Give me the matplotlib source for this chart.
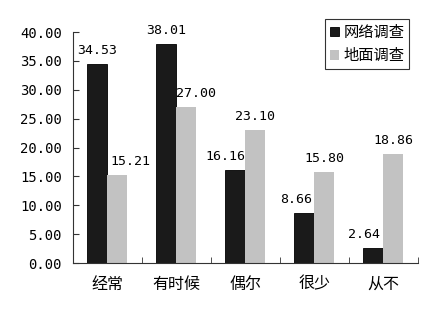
import numpy as np
import matplotlib
matplotlib.use('Agg')
from matplotlib import pyplot as plt

plt.rcParams['font.family'] = ['Noto Sans CJK SC', 'DejaVu Sans']

# Data
categories = ['经常', '有时候', '偶尔', '很少', '从不']
online = [34.53, 38.01, 16.16, 8.66, 2.64]
ground = [15.21, 27.00, 23.10, 15.80, 18.86]
series_names = ['网络调查', '地面调查']
yticks = [0, 5, 10, 15, 20, 25, 30, 35, 40]

# horizontal nudges of value labels (points), as in the original
online_dx = [0, 0, -7, -6, -6.5]
ground_dx = [9.5, 7, 0, 0, 0]

fig = plt.figure(figsize=(4.44, 3.12), dpi=100)
ax = fig.add_axes([0.164, 0.157, 0.777, 0.74])

x = np.arange(len(categories))
w = 0.29
b1 = ax.bar(x - w/2, online, w, color='#1a1a1a', edgecolor='#000000', linewidth=0.6, label=series_names[0])
b2 = ax.bar(x + w/2, ground, w, color='#c2c2c2', label=series_names[1])

mono = 'DejaVu Sans Mono'
for bars, dxs in ((b1, online_dx), (b2, ground_dx)):
    for r, dx in zip(bars, dxs):
        ax.annotate('%.2f' % r.get_height(), (r.get_x() + r.get_width()/2, r.get_height()),
                    xytext=(dx, 5), textcoords='offset points', ha='center', va='bottom',
                    family=mono, fontsize=9.5)

ax.set_xlim(-0.5, len(categories) - 0.5)
ax.set_ylim(0, 40)
ax.set_yticks(yticks)
ax.set_yticklabels(['%.2f' % v for v in yticks], family=mono, fontsize=10)
ax.set_xticks(x)
ax.set_xticklabels(categories, fontsize=11.5)
ax.tick_params(axis='x', length=0, pad=9)
ax.tick_params(axis='y', direction='in', length=4, pad=8, color='#333333')
ax.set_xticks(np.arange(len(categories) + 1) - 0.5, minor=True)
ax.tick_params(axis='x', which='minor', direction='in', length=4, color='#333333')

for s in ('top', 'right'):
    ax.spines[s].set_visible(False)
for s in ('left', 'bottom'):
    ax.spines[s].set_color('#333333')

leg = ax.legend(loc='upper right', bbox_to_anchor=(0.975, 1.055), fontsize=11,
                frameon=True, fancybox=False, edgecolor='#000000',
                handlelength=0.6, handleheight=0.6, handletextpad=0.3,
                borderpad=0.3, labelspacing=0.4, borderaxespad=0)
leg.get_frame().set_linewidth(0.8)

plt.savefig('out.png', dpi=100)
